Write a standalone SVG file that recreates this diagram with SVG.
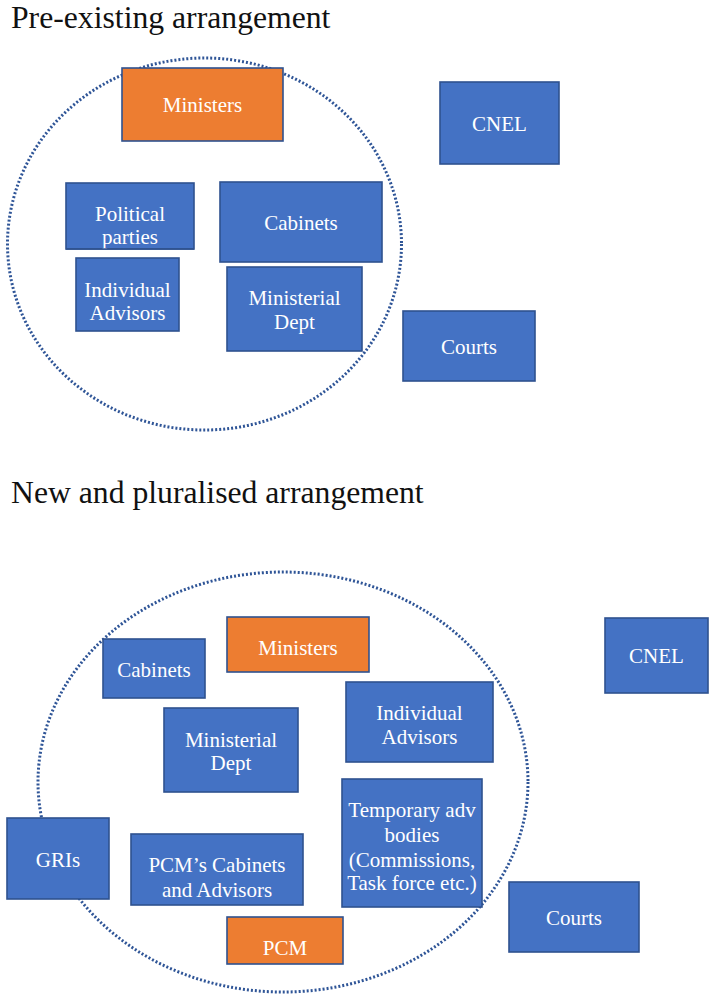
<svg xmlns="http://www.w3.org/2000/svg" width="711" height="999" viewBox="0 0 711 999">
<style>
.title{font-family:'Liberation Serif','Tinos','DejaVu Serif',serif;font-size:31.7px;fill:#111}
.b{fill:#4472C4;stroke:#2F528F;stroke-width:1.6}
.o{fill:#ED7D31;stroke:#2F528F;stroke-width:1.6}
.t{font-family:'Liberation Serif','Tinos','DejaVu Serif',serif;font-size:21px;fill:#fff;text-anchor:middle}
.ring{fill:none;stroke:#2F5597;stroke-width:3;stroke-dasharray:2 2}
</style>
<rect width="711" height="999" fill="#fff"/>
<text class="title" x="11" y="28">Pre-existing arrangement</text>
<text class="title" x="11" y="503">New and pluralised arrangement</text>
<g id="connectors">
<ellipse id="ring-top" class="ring" cx="204.5" cy="244" rx="197" ry="186"/>
<ellipse id="ring-bottom" class="ring" cx="283" cy="782" rx="245" ry="210"/>
</g>
<g id="top-ministers"><rect class="o" x="122" y="68" width="161" height="73"/><text class="t" x="202.5" y="112">Ministers</text></g>
<g id="top-cnel"><rect class="b" x="440" y="82" width="119" height="82"/><text class="t" x="499.5" y="131">CNEL</text></g>
<g id="top-political"><rect class="b" x="66" y="183" width="128" height="66"/><text class="t" x="130" y="221">Political</text><text class="t" x="130" y="244">parties</text><rect x="60" y="250" width="140" height="8" fill="#fff"/><line x1="66" y1="249" x2="194" y2="249" stroke="#2F528F" stroke-width="1.6"/></g>
<g id="top-cabinets"><rect class="b" x="220" y="182" width="162" height="80"/><text class="t" x="301" y="230">Cabinets</text></g>
<g id="top-advisors"><rect class="b" x="76" y="258" width="103" height="73"/><text class="t" x="127.5" y="297">Individual</text><text class="t" x="127.5" y="320">Advisors</text></g>
<g id="top-dept"><rect class="b" x="227" y="267" width="135" height="84"/><text class="t" x="294.5" y="305">Ministerial</text><text class="t" x="294.5" y="329">Dept</text></g>
<g id="top-courts"><rect class="b" x="403" y="311" width="132" height="70"/><text class="t" x="469" y="354">Courts</text></g>
<g id="bot-ministers"><rect class="o" x="227" y="617" width="142" height="55"/><text class="t" x="298" y="655">Ministers</text></g>
<g id="bot-cabinets"><rect class="b" x="103" y="639" width="102" height="59"/><text class="t" x="154" y="677">Cabinets</text></g>
<g id="bot-cnel"><rect class="b" x="605" y="618" width="103" height="75"/><text class="t" x="656.5" y="663">CNEL</text></g>
<g id="bot-advisors"><rect class="b" x="346" y="682" width="147" height="80"/><text class="t" x="419.5" y="720">Individual</text><text class="t" x="419.5" y="744">Advisors</text></g>
<g id="bot-dept"><rect class="b" x="164" y="708" width="134" height="84"/><text class="t" x="231" y="747">Ministerial</text><text class="t" x="231" y="770">Dept</text></g>
<g id="bot-temporary"><rect class="b" x="342" y="779" width="140" height="128"/><text class="t" x="412" y="817">Temporary adv</text><text class="t" x="412" y="842">bodies</text><text class="t" x="412" y="867">(Commissions,</text><text class="t" x="412" y="890">Task force etc.)</text></g>
<g id="bot-gris"><rect class="b" x="7" y="818" width="102" height="81"/><text class="t" x="58" y="867">GRIs</text></g>
<g id="bot-pcm-cabinets"><rect class="b" x="131" y="834" width="172" height="71"/><text class="t" x="217" y="872">PCM’s Cabinets</text><text class="t" x="217" y="897">and Advisors</text></g>
<g id="bot-pcm"><rect class="o" x="227" y="917" width="116" height="47"/><text class="t" x="285" y="955">PCM</text></g>
<g id="bot-courts"><rect class="b" x="509" y="882" width="130" height="70"/><text class="t" x="574" y="925">Courts</text></g>
</svg>
